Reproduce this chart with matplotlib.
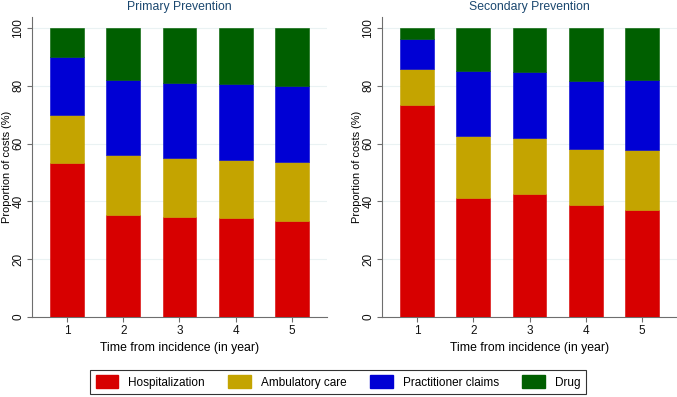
import numpy as np
import matplotlib
matplotlib.use('Agg')
import matplotlib.pyplot as plt
from matplotlib.patches import Patch

## data (percent of costs by year since incidence)
years = [1, 2, 3, 4, 5]
categories = ['Hospitalization', 'Ambulatory care', 'Practitioner claims', 'Drug']
colors = ['#d70000', '#c4a400', '#0000d4', '#005f00']

primary_hosp = [53.3, 35.3, 34.6, 34.3, 33.2]
primary_amb = [16.5, 20.8, 20.4, 20.1, 20.4]
primary_prac = [20.0, 25.8, 26.0, 26.3, 26.4]
primary_drug = [10.2, 18.1, 19.0, 19.3, 20.0]

secondary_hosp = [73.2, 41.2, 42.4, 38.8, 36.9]
secondary_amb = [12.7, 21.4, 19.5, 19.4, 20.8]
secondary_prac = [10.3, 22.5, 23.0, 23.6, 24.4]
secondary_drug = [3.8, 14.9, 15.1, 18.2, 17.9]

panels = [
    ('Primary Prevention', [primary_hosp, primary_amb, primary_prac, primary_drug]),
    ('Secondary Prevention', [secondary_hosp, secondary_amb, secondary_prac, secondary_drug]),
]

plt.rc('font', family='Liberation Sans', size=8.5)

W, H = 677, 397
fig = plt.figure(figsize=(W / 100, H / 100), dpi=100)

axes_px = [(32, 327), (382, 677)]
top_px, bottom_px = 17, 317

for (title, series), (x0, x1) in zip(panels, axes_px):
    ax = fig.add_axes([x0 / W, 1 - bottom_px / H, (x1 - x0) / W, (bottom_px - top_px) / H])
    bottom = np.zeros(len(years))
    for vals, c in zip(series, colors):
        ax.bar(years, vals, width=0.6, bottom=bottom, color=c, edgecolor=c, linewidth=0.4, zorder=3)
        bottom += np.array(vals)
    ax.set_xlim(0.38, 5.62)
    ax.set_ylim(0, 103.8)
    ax.set_xticks(years)
    ax.set_yticks([0, 20, 40, 60, 80, 100])
    ax.set_yticklabels(['0', '20', '40', '60', '80', '100'], rotation=90, va='center')
    ax.grid(axis='y', color='#eaf2f3', linewidth=0.8, zorder=0)
    for s in ['top', 'right']:
        ax.spines[s].set_visible(False)
    for s in ['left', 'bottom']:
        ax.spines[s].set_color('#6e6e6e')
        ax.spines[s].set_linewidth(0.8)
    ax.tick_params(colors='#6e6e6e', labelcolor='#111111', length=3.5, width=0.8, pad=2)
    ax.set_title(title, color='#1a476f', fontsize=8.8, pad=5)
    ax.set_ylabel('Proportion of costs (%)', fontsize=7.9)
    ax.yaxis.set_label_coords(-0.068, 0.5)
    ax.set_xlabel('Time from incidence (in year)', fontsize=8.8, labelpad=4)

handles = [Patch(facecolor=c, edgecolor=c) for c in colors]
leg = fig.legend(handles, categories, ncol=4, loc='center', bbox_to_anchor=(338 / W, 1 - 382 / H),
                 fontsize=8.5, frameon=True, fancybox=False, edgecolor='black',
                 handlelength=1.9, handleheight=1.25, columnspacing=2.0, handletextpad=0.85,
                 borderpad=0.45, borderaxespad=0)
leg.get_frame().set_linewidth(0.8)

plt.savefig('out.png', dpi=100)
